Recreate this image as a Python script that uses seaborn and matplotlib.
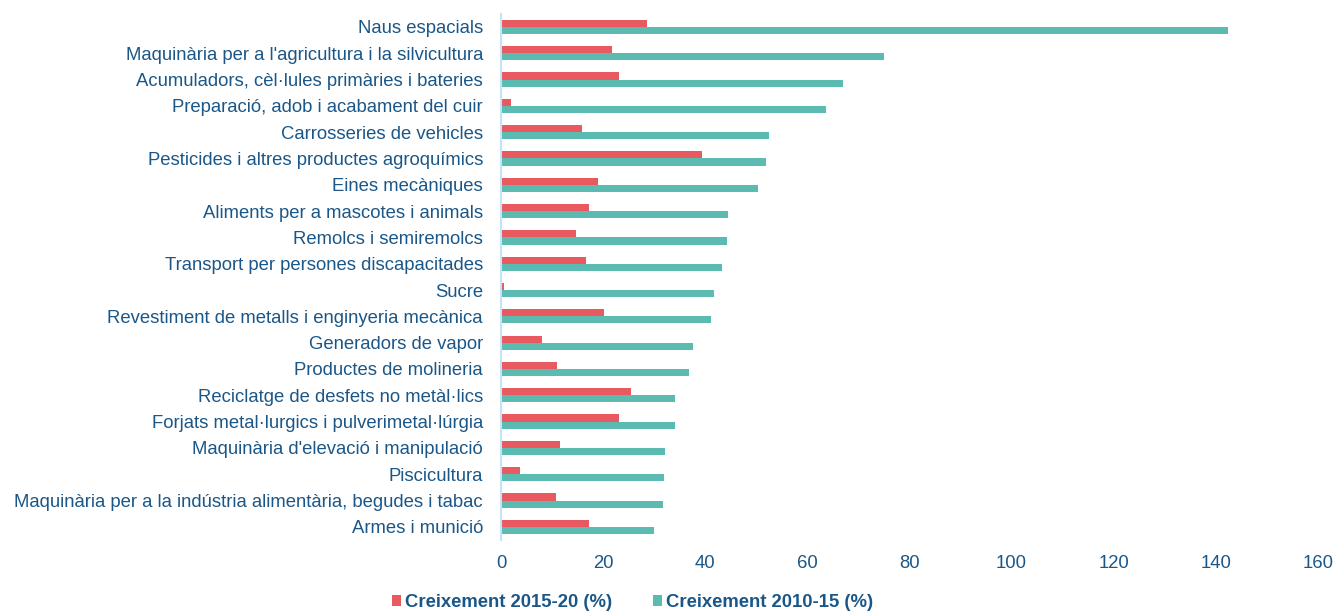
import matplotlib.pyplot as plt
import pandas as pd
import seaborn as sns

# Categories (top to bottom) and the two growth series
categories = [
    'Naus espacials',
    "Maquinària per a l'agricultura i la silvicultura",
    'Acumuladors, cèl·lules primàries i bateries',
    'Preparació, adob i acabament del cuir',
    'Carrosseries de vehicles',
    'Pesticides i altres productes agroquímics',
    'Eines mecàniques',
    'Aliments per a mascotes i animals',
    'Remolcs i semiremolcs',
    'Transport per persones discapacitades',
    'Sucre',
    'Revestiment de metalls i enginyeria mecànica',
    'Generadors de vapor',
    'Productes de molineria',
    'Reciclatge de desfets no metàl·lics',
    'Forjats metal·lurgics i pulverimetal·lúrgia',
    "Maquinària d'elevació i manipulació",
    'Piscicultura',
    'Maquinària per a la indústria alimentària, begudes i tabac',
    'Armes i munició',
]
growth_2015_20 = [28.6, 21.7, 23.1, 2.0, 15.8, 39.3, 19.0, 17.3, 14.6, 16.7,
                  0.5, 20.2, 8.1, 11.0, 25.5, 23.2, 11.5, 3.7, 10.8, 17.2]
growth_2010_15 = [142.4, 75.1, 66.9, 63.6, 52.4, 51.9, 50.4, 44.4, 44.3, 43.2,
                  41.7, 41.2, 37.6, 36.8, 34.0, 34.0, 32.1, 32.0, 31.7, 30.0]
series_names = ['Creixement 2015-20 (%)', 'Creixement 2010-15 (%)']
x_ticks = [0, 20, 40, 60, 80, 100, 120, 140, 160]

df = pd.concat([
    pd.DataFrame({'categoria': categories, 'valor': growth_2015_20, 'serie': series_names[0]}),
    pd.DataFrame({'categoria': categories, 'valor': growth_2010_15, 'serie': series_names[1]}),
], ignore_index=True)

text_col = '#1A5788'
palette = {series_names[0]: '#E85A60', series_names[1]: '#5BBBB1'}

sns.set_style('white')
plt.rcParams['font.family'] = ['Liberation Sans', 'DejaVu Sans']

fig = plt.figure(figsize=(13.36, 6.15), dpi=100)
ax = fig.add_axes([0.375, 0.122, 0.6115, 0.8556])

sns.barplot(data=df, y='categoria', x='valor', hue='serie', order=categories,
            hue_order=series_names, palette=palette, orient='h', width=0.54,
            saturation=1, linewidth=0, ax=ax, legend=True)

ax.set_xlim(0, 160)
ax.set_ylim(19.5, -0.5)
ax.set_xticks(x_ticks)
ax.set_xlabel('')
ax.set_ylabel('')
ax.tick_params(axis='y', length=0, pad=13, labelsize=13.3, labelcolor=text_col)
ax.tick_params(axis='x', length=0, pad=11, labelsize=13.3, labelcolor=text_col)
for side in ['top', 'right', 'bottom']:
    ax.spines[side].set_visible(False)
ax.spines['left'].set_color('#C5E3F6')
ax.spines['left'].set_linewidth(1.5)

# legend sits at the very bottom, under the tick labels
handles, labels = ax.get_legend_handles_labels()
ax.get_legend().remove()
leg = fig.legend(handles, labels, loc='center', bbox_to_anchor=(0.4735, 0.02), ncol=2,
                 frameon=False, handlelength=0.5, handleheight=0.5, handletextpad=0.2,
                 columnspacing=2.2, borderpad=0, prop={'weight': 'bold', 'size': 13.3})
for t in leg.get_texts():
    t.set_color(text_col)

fig.savefig('out.png', dpi=100)
